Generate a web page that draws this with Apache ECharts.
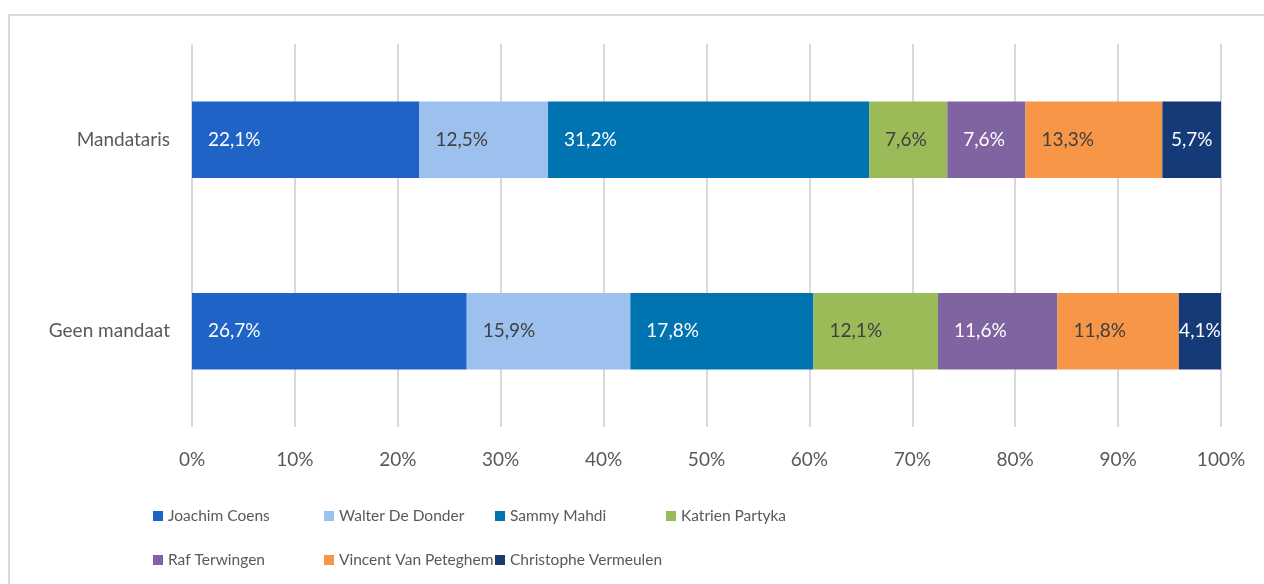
<!DOCTYPE html>
<html>
<head>
<meta charset="utf-8">
<script src="https://cdn.jsdelivr.net/npm/echarts@6/dist/echarts.min.js"></script>
<style>
    html, body { margin: 0; padding: 0; background: #fff; }
    #frame {
        position: absolute; left: 8px; top: 14px; width: 1270px; height: 600px;
        border: 2px solid #d9d9d9; box-sizing: border-box;
    }
    #chart { position: absolute; left: 0; top: 0; width: 1264px; height: 584px; }
</style>
</head>
<body>
<div id="frame"></div>
<div id="chart"></div>
<script>
    // categories (top to bottom)
    var categories = ['Mandataris', 'Geen mandaat']
    var names = ['Joachim Coens', 'Walter De Donder', 'Sammy Mahdi', 'Katrien Partyka',
                 'Raf Terwingen', 'Vincent Van Peteghem', 'Christophe Vermeulen']
    // per person: [Mandataris, Geen mandaat]
    var joachim = [22.1, 26.7]
    var walter = [12.5, 15.9]
    var sammy = [31.2, 17.8]
    var katrien = [7.6, 12.1]
    var raf = [7.6, 11.6]
    var vincent = [13.3, 11.8]
    var christophe = [5.7, 4.1]
    var xTicks = [0, 10, 20, 30, 40, 50, 60, 70, 80, 90, 100]

    var values = [joachim, walter, sammy, katrien, raf, vincent, christophe]
    var colors = ['#1f63c6', '#9dc1ef', '#0073b1', '#9bbb59', '#8064a2', '#f79646', '#143b78']
    var labelColors = ['#fff', '#404040', '#fff', '#404040', '#fff', '#404040', '#fff']
    var font = 'Lato, "Open Sans", sans-serif'
    var fs = 19

    var myChart = echarts.init(document.getElementById('chart'))
    var series = names.map(function (n, i) {
        return {
            name: n,
            type: 'bar',
            stack: 'total',
            barWidth: '40%',
            data: values[i],
            itemStyle: { color: colors[i] },
            label: {
                show: true,
                position: i === 6 ? 'inside' : 'insideLeft',
                distance: 16,
                color: labelColors[i],
                fontFamily: font,
                fontSize: fs,
                formatter: function (p) { return p.value.toFixed(1).replace('.', ',') + '%' }
            }
        }
    })

    // legend: 4 per row, fixed column width like the original
    var legends = names.map(function (n, i) {
        return {
            left: 148 + 171 * (i % 4),
            top: 503 + 44 * Math.floor(i / 4),
            itemWidth: 10,
            itemHeight: 10,
            icon: 'rect',
            textStyle: { color: '#595959', fontSize: 15.5, fontFamily: font },
            data: [n]
        }
    })

    var option = {
        animation: false,
        textStyle: { fontFamily: font },
        grid: { left: 192, right: 43, top: 44, bottom: 157 },
        xAxis: {
            type: 'value',
            min: xTicks[0],
            max: xTicks[xTicks.length - 1],
            interval: 10,
            axisLine: { show: false },
            axisTick: { show: false },
            splitLine: { lineStyle: { color: '#d9d9d9', width: 2 } },
            axisLabel: {
                color: '#595959', fontSize: fs, margin: 23, fontFamily: font,
                formatter: '{value}%'
            }
        },
        yAxis: {
            type: 'category',
            data: categories,
            inverse: true,
            axisLine: { show: false },
            axisTick: { show: false },
            axisLabel: { color: '#595959', fontSize: fs, margin: 22, fontFamily: font }
        },
        legend: legends,
        series: series
    }
    myChart.setOption(option)
</script>
</body>
</html>
